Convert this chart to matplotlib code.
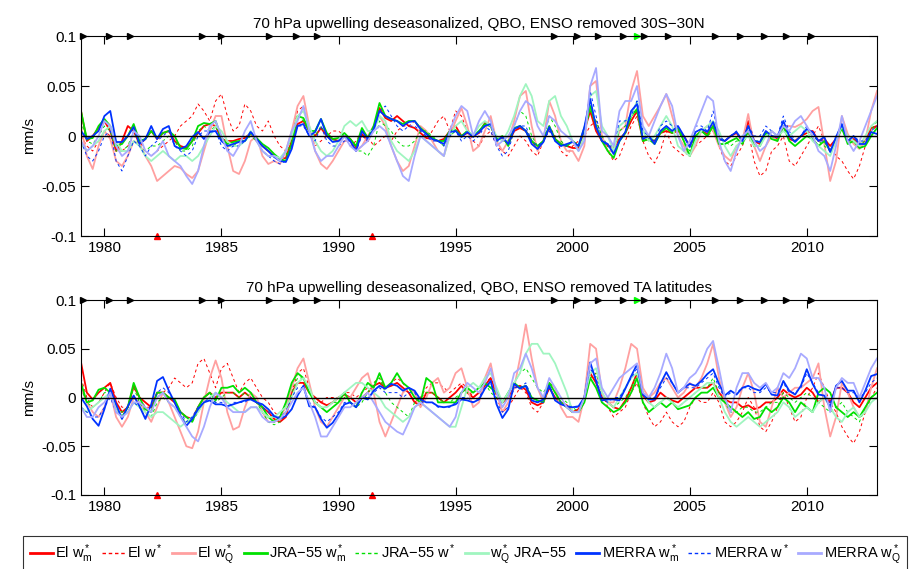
import numpy as np
import matplotlib
matplotlib.use('Agg')
import matplotlib.pyplot as plt
from matplotlib.lines import Line2D

plt.rcParams['font.family'] = ['Liberation Sans', 'DejaVu Sans']
plt.rcParams['mathtext.fontset'] = 'custom'
plt.rcParams['mathtext.rm'] = 'Liberation Sans'
plt.rcParams['mathtext.it'] = 'Liberation Sans'

# quarterly samples 1979.0 .. 2013.0 ; values in 1e-3 mm/s
years = 1979 + np.arange(137) / 4.0

# ---------------- top panel: 30S-30N ----------------
top_el_wm = [25, -5, 0, 8, 15, 5, -15, -5, 10, 5, -8, -3, 5, -3, 3, 5, -5, -10, -12, -5,
             3, 10, 12, 10, -3, -5, -5, -3, -2, 3, -5, -10, -15, -20, -23, -22, -5, 12, 15, 5,
             0, 8, 0, -3, -5, 0, -3, -12, 2, -5, 8, 28, 18, 15, 20, 15, 10, 8, 3, -2,
             -3, -5, -3, 5, 10, 0, 3, 0, 3, 13, 10, -3, -2, -8, 5, 8, 5, -5, -12, -5,
             8, -3, -8, -10, -12, -12, 5, 25, 5, -5, -10, -12, -3, 3, 15, 25, -5, -3, -5, 3,
             5, 3, 5, 0, -10, 0, 5, 2, 10, -3, -5, 0, 3, -5, 15, -5, -8, 3, 0, -3,
             10, -3, -5, 0, 3, 5, -5, -3, -10, -3, 8, -5, -3, -8, -5, 8, 10]
top_el_w = [0, -10, -15, -5, 5, 0, -10, -15, -10, 0, -5, -15, -20, -15, -10, -5, 0, 10, 15, 20,
            32, 25, 15, 35, 42, 20, 5, 10, 32, 25, 10, 5, 15, 0, -10, -15, 0, 25, 30, 5,
            -10, -5, 0, 5, 5, 0, -10, -5, 5, 0, -10, -5, 0, -5, 5, 10, 10, 15, 5, -5,
            5, 15, 20, 5, 25, 20, 5, -5, -10, 0, 5, -10, -15, -20, -10, 0, -5, -15, -20, -5,
            10, 0, -15, -20, -10, -5, 0, 10, 15, 0, -15, -25, -20, -5, 10, 20, -5, -20, -27, -15,
            5, -10, -15, -20, -15, -10, -5, 0, 5, -10, -25, -30, -20, -10, 5, -25, -40, -35, -15, -10,
            0, -25, -30, -20, -10, 0, 10, -5, -10, -20, -25, -35, -43, -30, -10, 5, 10]
top_el_wq = [9, -20, -33, -10, 5, -3, -25, -30, -20, -5, -8, -20, -30, -45, -40, -35, -30, -32, -38, -42,
             -35, -15, 5, 20, 20, -10, -35, -38, -25, -5, 0, -20, -28, -25, -28, -15, 5, 30, 40, 10,
             -15, -28, -33, -25, -15, -5, -5, -15, -10, 0, 10, 20, 10, -10, -25, -35, -30, -10, 10, 5,
             -5, -15, -20, 0, 15, 28, 10, -15, -10, 5, 20, -5, -15, -5, 15, 40, 45, 10, -15, -5,
             35, 20, -5, -15, -15, -25, -10, 50, 55, 0, -15, -15, 5, 10, 45, 65, 20, 10, 20, 30,
             42, 20, 0, -10, -20, -10, 5, 10, 5, -10, -20, -25, -10, -5, 22, -10, -25, -10, 0, -5,
             10, 10, 9, 12, 17, 25, 29, -8, -45, -25, 20, 2, -8, -13, -5, 25, 45]
top_jra_wm = [25, -3, -2, 10, 17, 10, -10, -8, 0, 12, -5, -3, 5, -2, 3, 5, 0, -12, -13, -5,
              10, 13, 12, 15, -2, -8, -6, -5, -5, 3, -2, -8, -12, -18, -23, -25, -8, 20, 18, 5,
              5, 17, 3, -3, -2, 3, -3, -10, 8, -2, 10, 33, 20, 17, 15, 12, 15, 15, 8, 3,
              -2, -5, -5, 5, 6, 0, 5, 0, 5, 12, 10, -3, 0, -10, 8, 10, 5, -5, -10, -5,
              10, -3, -8, -10, -5, -10, 8, 30, 10, -5, -15, -22, -5, 3, 20, 27, -5, -3, -8, 3,
              8, 3, 8, -5, -20, 0, 5, 0, 10, -8, -8, -5, -2, -8, 5, -10, -10, 3, -3, -5,
              10, -5, -10, -5, 0, -3, -10, -5, -15, -5, 8, -8, -5, -12, -10, 0, 8]
top_jra_w = [15, -5, -8, 0, 10, 5, -15, -15, -10, 5, -10, -15, -10, -10, -5, 0, -5, -15, -15, -10,
             5, 10, 5, 10, -5, -10, -10, -5, -5, 0, -5, -10, -15, -20, -22, -20, 0, 20, 15, 5,
             0, 10, 0, -5, -5, 0, -5, -15, -15, -20, -10, 15, 10, 5, -5, -10, -10, -5, 5, 5,
             0, -5, -10, 0, 5, 0, 5, 0, 5, 10, 10, -5, -5, -5, 10, 25, 20, 0, -10, -5,
             20, 10, -5, -10, -5, -10, 5, 25, 15, 0, -10, -15, 5, 10, 20, 25, 5, 0, -5, 5,
             10, 5, 5, -5, -15, 0, 5, 0, 15, 0, -5, -10, -5, -5, 10, -5, -5, 5, 0, -5,
             10, 0, -5, 0, 5, 0, -5, -10, -15, -5, 10, -5, -5, -10, -5, 5, 15]
top_jra_wq = [-8, -15, -10, -5, 5, 10, -5, -15, -15, -5, -10, -20, -25, -20, -15, -20, -25, -20, -20, -25,
              -20, -10, 0, 10, 5, -5, -10, -10, -5, 5, -5, -15, -20, -20, -22, -15, 0, 20, 25, 10,
              -5, -15, -20, -15, -5, 10, 15, 10, 15, 5, 5, 20, 15, -5, -15, -20, -25, -15, 0, -5,
              -10, -15, -20, 0, 10, 15, 5, 0, 10, 15, 10, 0, -5, 5, 20, 40, 52, 40, 15, 10,
              35, 40, 20, 10, -5, -15, 0, 40, 45, 10, 0, -15, 10, 15, 20, 35, 5, -5, 0, 10,
              20, 10, -10, -15, -20, -5, 5, 10, 15, 5, -10, -20, -10, -5, 0, -10, -10, 0, 5, 0,
              5, 0, 5, 10, 5, -5, -10, -15, -20, -5, 10, 0, -5, -10, 0, 10, 15]
top_merra_wm = [5, -3, 0, 5, 20, 25, -6, -6, 0, 9, -8, -3, 10, -3, 7, 10, -10, -13, -10, -1,
                4, -3, 4, 5, -5, -10, -8, -6, -5, 4, -3, -10, -15, -21, -25, -26, -13, 10, 12, 0,
                4, 17, 0, -6, -5, 0, -5, -15, 5, -3, 7, 25, 20, 17, 15, 10, 14, 15, 7, 2,
                -3, -5, -8, 4, 5, -1, 4, -1, 4, 10, 12, -5, -1, -8, 7, 10, 5, -8, -13, -6,
                9, -5, -10, -8, -6, -10, 9, 37, 9, -5, -8, -18, -5, 4, 25, 32, -3, 0, -8, 5,
                10, 5, 10, 0, -11, 4, 7, 4, 14, -3, -5, 0, 4, -5, 10, -5, -6, 5, 0, -1,
                15, 0, -6, 0, 7, 4, -5, -1, -16, -1, 12, -5, 0, -8, -8, 4, 2]
top_merra_w = [-5, -20, -25, -15, 0, 5, -25, -35, -20, -5, -10, -20, -10, -5, 0, 5, -10, -15, -20, -15,
               0, 5, 5, 5, -10, -15, -10, -10, -5, 5, -5, -15, -20, -25, -28, -25, -10, 10, 10, 0,
               -5, 10, -5, -10, -10, -5, -5, -15, 0, -5, 5, 25, 30, 20, 10, 5, 10, 10, 5, 0,
               -5, -5, -10, 0, 5, -5, 0, -5, 0, 10, 5, -10, -20, -15, 5, 10, 10, -5, -10, -5,
               5, -5, -10, -10, -5, -10, 5, 45, 20, -5, -10, -10, 15, 15, 20, 35, 5, 0, -5, 10,
               15, 10, 10, 0, -10, 10, 10, 5, 25, 0, -5, 0, 5, -5, 10, 0, 0, 10, 5, 0,
               20, 5, -5, 0, 10, 0, -5, -5, -15, 0, 10, -5, 0, -5, -5, 5, 10]
top_merra_wq = [-5, -15, -10, 0, 15, 10, -10, -20, -15, 5, 0, -15, -20, -15, -5, -20, -25, -30, -40, -48,
                -35, -10, 10, 15, 0, -15, -20, -10, 5, 15, -5, -15, -20, -20, -25, -15, 5, 15, 30, 5,
                -15, -25, -20, -20, -10, 0, -10, -15, -10, -5, 5, 10, 5, -10, -25, -40, -45, -20, 0, -5,
                -10, -15, -20, 5, 20, 30, 25, 0, 15, 25, 15, -10, -5, 0, 10, 25, 35, 30, 10, 0,
                20, 15, 5, 0, -5, -15, -5, 50, 68, 5, 0, -10, 25, 35, 35, 50, 10, 0, 15, 30,
                42, 30, 0, -15, -5, 10, 25, 40, 35, -5, -25, -35, -15, 0, 5, -5, -15, -10, 5, 0,
                10, 5, 15, 20, 10, 0, -15, -20, -35, -10, 20, -5, -15, -5, 10, 25, 40]

# ---------------- bottom panel: TA latitudes ----------------
bot_el_wm = [36, 5, -2, 5, 10, 15, -5, -15, -10, 12, 0, -5, -10, 5, 5, 0, -5, -15, -20, -22,
             -10, 0, 5, 0, 5, 5, 5, 0, 5, 0, -5, -10, -15, -22, -25, -20, 5, 15, 15, 5,
             0, -5, -8, -5, 0, 3, 0, -5, 0, 5, 12, 15, 10, 12, 15, 10, 5, -5, -8, 5,
             5, 0, -5, 0, 5, 12, 5, 0, 5, 12, 20, 5, -5, 0, 10, 12, 8, -5, -8, -5,
             10, 0, -5, -8, -15, -12, 0, 25, 15, 0, -5, -10, -12, -3, 10, 25, 2, -5, -3, 5,
             0, -3, -5, 0, 5, 10, 10, 10, 15, 5, -2, -5, -5, -10, -8, -12, -10, -5, -5, 0,
             8, 3, 0, 3, 10, 5, -5, 0, -5, 10, 10, 5, -5, -10, 0, 10, 15]
bot_el_w = [20, 0, -10, -5, 5, 15, 0, -10, -10, 10, 0, -10, -10, 0, 5, 10, 20, 15, 10, 15,
            35, 40, 25, 10, 30, 35, 20, 5, 15, 20, 10, 0, -5, -15, -20, -15, 5, 25, 30, 10,
            -5, -5, 0, 0, 0, 5, 5, 0, 5, 10, 15, 20, 10, 15, 20, 15, 5, -5, 0, 10,
            15, 15, 10, 5, 10, 15, 10, 0, 5, 15, 20, 0, -15, -10, 0, 10, 5, -10, -15, -5,
            10, 5, -5, -10, -15, -15, -5, 20, 25, 5, -10, -20, -15, -10, 5, 15, -5, -20, -30, -25,
            -15, -25, -30, -25, -10, 0, -5, -5, 5, -5, -25, -30, -25, -15, 0, -10, -30, -35, -25, -10,
            5, -10, -25, -20, 0, 10, 25, 10, -5, -15, -30, -40, -47, -35, -15, 0, 10]
bot_el_wq = [10, -5, -15, -20, -10, 5, -20, -30, -20, 0, -5, -15, -25, -10, 5, -5, -20, -35, -50, -52,
             -35, -5, 20, 38, 20, -15, -33, -30, -10, 5, 0, -15, -25, -25, -20, -10, 10, 30, 40, 15,
             -10, -25, -30, -20, -10, 0, 0, 10, 20, 25, 5, -25, -40, -25, -10, 5, 10, 5, -10, 0,
             15, 20, 5, 10, 25, 30, 10, -10, -5, 20, 35, 5, -15, -5, 10, 40, 75, 40, 10, -5,
             15, 10, -10, -20, -20, -25, 0, 55, 50, 5, -5, -5, 10, 30, 55, 50, 10, 0, 5, 15,
             20, 10, 0, 5, 15, 10, 20, 35, 55, 20, -5, -20, -10, 10, 25, 5, -25, -30, -10, 10,
             0, 5, 10, 10, 15, 20, 35, -10, -40, -20, 15, 5, -10, -20, -15, 10, 30]
bot_jra_wm = [15, -5, -3, 8, 10, 5, -10, -20, -10, 15, 0, -12, -15, 5, 5, 0, -2, -15, -20, -25,
              -10, 0, 5, -3, 10, 10, 12, 5, 10, 5, -5, -10, -20, -25, -20, -5, 15, 25, 20, 5,
              -5, -10, -15, -10, -5, 5, -5, -10, 5, 15, 10, 25, 10, 15, 25, 15, 10, 0, -5, 20,
              15, -5, -5, -5, -5, 5, 10, 5, 10, 15, 10, 5, -5, 5, 15, 10, 12, 0, -3, -5,
              15, 5, -5, -10, -15, -15, -5, 20, 10, -5, -10, -15, -12, -5, 5, 20, -5, -15, -10, -5,
              -10, -5, -12, -10, -8, 0, 5, 5, 10, 0, -5, -10, -15, -20, -15, -22, -20, -10, -15, -10,
              0, -5, -15, -5, -10, -15, 5, 10, 5, -10, -15, -20, -15, -20, -10, 0, 5]
bot_jra_w = [10, -5, -10, -5, 5, 5, -10, -15, -10, 10, -5, -15, -20, -5, 0, -5, -10, -20, -25, -25,
             -15, -5, 0, -5, 0, 5, 5, 0, 5, 0, -5, -15, -25, -28, -25, -15, 5, 20, 20, 5,
             -5, -10, -10, -5, -5, 0, -5, -10, -5, 5, 15, 20, 5, -5, -10, -15, -20, -5, 0, 5,
             5, 0, -5, -5, 0, 5, 5, 5, 10, 15, 5, 0, -5, 5, 15, 25, 30, 20, 10, 5,
             15, 10, 0, -5, -10, -15, 0, 20, 25, 5, -5, -10, -5, 0, 10, 25, 5, -5, -10, -5,
             0, -5, -10, -5, 0, 5, 10, 10, 20, 5, -5, -15, -15, -10, -10, -15, -15, -10, -5, -5,
             5, 0, -5, 0, 5, 0, -5, -10, -15, -10, -5, -15, -20, -25, -10, 0, 5]
bot_jra_wq = [-10, -15, -10, -5, 0, 5, -10, -20, -15, -5, -10, -15, -20, -15, -15, -20, -25, -30, -25, -20,
              -15, -5, 0, 5, 0, -5, -10, -15, -15, -10, -10, -15, -20, -20, -15, -10, 0, 15, 20, 10,
              -5, -10, -10, -5, 0, 5, 10, 15, 15, 10, 5, 0, -10, -15, -20, -25, -20, -10, -5, -10,
              -15, -20, -25, -30, -30, -10, 10, 15, 10, 20, 25, 10, -5, 5, 15, 25, 45, 55, 55, 45,
              45, 35, 20, 5, -15, -15, 0, 25, 30, 5, -5, -10, 0, 10, 20, 25, 5, -5, -10, -5,
              0, -5, -10, -5, 0, 5, 10, 15, 15, 0, -15, -25, -30, -25, -20, -25, -30, -25, -20, -15,
              -5, -10, -20, -15, -10, -15, -5, 0, -10, -20, -25, -15, -10, -20, -15, -5, 0]
bot_merra_wm = [0, -9, -22, -29, -12, 9, -7, -22, -9, 2, -9, -22, -7, 17, 21, 7, -5, -19, -29, -22,
                -12, -5, -3, -7, -7, -9, -7, -5, -3, -2, -5, -7, -12, -19, -22, -19, -12, 2, 12, -9,
                -10, -22, -31, -26, -17, -7, -5, -10, 0, -2, 7, 12, 9, 14, 12, 7, 10, 7, -2, -5,
                -5, -9, -10, -9, -7, -2, -3, -5, -2, 9, 17, -7, -21, -12, 14, 9, 12, -3, -5, -2,
                12, -3, -7, -9, -10, -9, 0, 36, 17, -3, -2, -2, -3, 9, 22, 34, 3, -2, -2, 14,
                26, 15, 5, 10, 14, 12, 17, 24, 29, 14, 2, 7, 3, 10, 12, 9, 7, 14, 3, 2,
                17, 7, 3, 12, 29, 14, 3, 2, -10, 12, 17, 7, 7, -5, 7, 22, 24]
bot_merra_w = [-10, -15, -20, -20, -10, 0, -15, -20, -15, -5, -10, -20, -10, 5, 10, 5, -5, -15, -25, -20,
               -10, -5, 0, -5, -5, -10, -5, -5, -5, 0, -5, -10, -15, -20, -20, -15, 0, 10, 10, -5,
               -10, -20, -25, -20, -15, -5, -5, -10, 0, 0, 5, 10, 5, 5, 5, 0, 5, 5, -5, -5,
               -5, -10, -10, -10, -5, 0, 0, -5, 0, 10, 15, -5, -15, -10, 10, 10, 15, 0, -5, -5,
               10, 0, -5, -10, -10, -10, 0, 30, 20, 0, -5, 0, 0, 10, 20, 30, 5, 0, 0, 10,
               20, 15, 5, 10, 10, 10, 15, 20, 25, 10, 0, 5, 5, 10, 10, 5, 5, 10, 5, 5,
               15, 5, 5, 10, 25, 15, 5, 0, -5, 10, 10, 5, 5, 0, 5, 15, 20]
bot_merra_wq = [-10, -20, -20, -10, -5, 5, -15, -20, -15, -5, -5, -10, -15, 0, 5, -5, -10, -20, -30, -40,
                -45, -30, -10, 5, 0, -10, -15, -15, -15, -10, -10, -20, -25, -25, -22, -15, -5, 5, 10, -5,
                -20, -40, -40, -30, -20, -10, -10, -5, 0, 5, -5, -15, -25, -30, -35, -38, -25, -10, -5, -10,
                -15, -20, -25, -30, -20, 5, 15, 10, 5, 15, 30, 5, -10, 0, 25, 30, 45, 30, 10, 0,
                20, 10, 0, -10, -15, -15, 0, 35, 40, 10, 0, 10, 20, 25, 30, 35, 5, 0, 10, 25,
                45, 30, 5, 10, 20, 25, 35, 50, 58, 30, 0, -15, 10, 25, 25, 15, 10, 15, 5, 10,
                25, 20, 30, 45, 40, 20, 20, 10, -15, 10, 20, 15, 15, 0, 15, 30, 40]

# QBO phase markers along the top, volcanic eruptions along the bottom
qbo_years = [1979.07, 1980.2, 1981.1, 1984.15, 1985.0, 1987.05, 1988.2, 1989.1,
             1999.2, 2000.2, 2001.1, 2002.15, 2003.05, 2004.07, 2006.1, 2007.15,
             2008.17, 2009.1, 2010.2]
qbo_green_years = [2002.73]
volcano_years = [1982.25, 1991.45]

labels = [r'El w$_\mathrm{m}^*$', r'El w$^*$', r'El w$_\mathrm{Q}^*$',
          r'JRA−55 w$_\mathrm{m}^*$', r'JRA−55 w$^*$', r'w$_\mathrm{Q}^*$ JRA−55',
          r'MERRA w$_\mathrm{m}^*$', r'MERRA w$^*$', r'MERRA w$_\mathrm{Q}^*$']
styles = [('#ff0000', '-', 1.3), ('#ff0000', '--', 0.7), ('#ffa0a0', '-', 1.3),
          ('#00e000', '-', 1.3), ('#00e000', '--', 0.7), ('#a0f5c0', '-', 1.3),
          ('#0033ff', '-', 1.3), ('#0033ff', '--', 0.7), ('#a8aaff', '-', 1.3)]


def draw_panel(ax, series, title):
    for vals, (col, ls, lw) in zip(series, styles):
        if ls == '--':
            ax.plot(years, np.array(vals) / 1000.0, color=col, lw=lw, dashes=(3, 3))
        else:
            ax.plot(years, np.array(vals) / 1000.0, color=col, lw=lw)
    ax.axhline(0, color='k', lw=1.0)
    ax.set_xlim(1979, 2013)
    ax.set_ylim(-0.1, 0.1)
    top = ax.get_ylim()[1]
    bot = ax.get_ylim()[0]
    ax.plot(qbo_years, [top] * len(qbo_years), '>', color='k', ms=5, clip_on=False)
    ax.plot(qbo_green_years, [top] * len(qbo_green_years), '>', color='#00ff00', ms=5, clip_on=False)
    ax.plot(volcano_years, [bot] * len(volcano_years), '^', color='red', ms=5, clip_on=False)
    ax.set_xticks([1980, 1985, 1990, 1995, 2000, 2005, 2010])
    ax.set_yticks([-0.1, -0.05, 0, 0.05, 0.1])
    ax.set_yticklabels(['-0.1', '-0.05', '0', '0.05', '0.1'])
    ax.tick_params(direction='in', top=True, right=True, length=6, labelsize=11, width=0.8)
    ax.set_ylabel('mm/s', fontsize=11)
    ax.set_title(title, fontsize=11, pad=6)


fig = plt.figure(figsize=(9.17, 5.69), dpi=100)
ax1 = fig.add_axes([81 / 917, 1 - 236 / 569, 796 / 917, 200 / 569])
ax2 = fig.add_axes([81 / 917, 1 - 495 / 569, 796 / 917, 195 / 569])

draw_panel(ax1, [top_el_wm, top_el_w, top_el_wq, top_jra_wm, top_jra_w, top_jra_wq,
                 top_merra_wm, top_merra_w, top_merra_wq],
           '70 hPa upwelling deseasonalized, QBO, ENSO removed 30S−30N')
draw_panel(ax2, [bot_el_wm, bot_el_w, bot_el_wq, bot_jra_wm, bot_jra_w, bot_jra_wq,
                 bot_merra_wm, bot_merra_w, bot_merra_wq],
           '70 hPa upwelling deseasonalized, QBO, ENSO removed TA latitudes')

handles = []
for col, ls, lw in styles:
    if ls == '--':
        handles.append(Line2D([], [], color=col, lw=1.0, dashes=(2.5, 2)))
    else:
        handles.append(Line2D([], [], color=col, lw=2))
leg = fig.legend(handles, labels, loc='upper left', bbox_to_anchor=(23 / 917, 1 - 536 / 569),
                 ncol=9, frameon=True, fancybox=False, edgecolor='black',
                 prop={'family': ['Liberation Sans Narrow', 'Liberation Sans'], 'size': 10.5},
                 handlelength=1.6, handletextpad=0.15, columnspacing=0.62,
                 borderaxespad=0, borderpad=0.45)
leg.get_frame().set_linewidth(0.8)

fig.savefig('out.png', dpi=100)
